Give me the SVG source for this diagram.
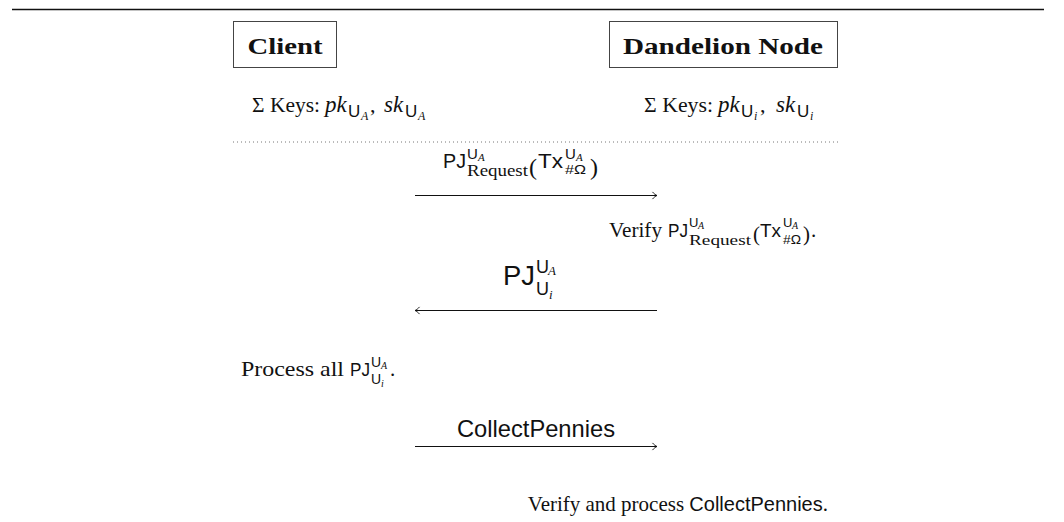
<svg xmlns="http://www.w3.org/2000/svg" width="1064" height="522" viewBox="0 0 1064 522">
<style>
.serif{font-family:"Liberation Serif",serif;fill:#111}
.sans{font-family:"Liberation Sans",sans-serif;fill:#111;font-style:normal}
.it{font-style:italic;font-family:"Liberation Serif",serif}
.bold{font-weight:bold}
.box{fill:none;stroke:#444;stroke-width:1}
.arrow{stroke:#111;stroke-width:1.1;fill:none}
</style>
<defs>
<marker id="to" viewBox="-6 -5 8 10" refX="0" refY="0" markerWidth="8" markerHeight="10" markerUnits="userSpaceOnUse" orient="auto">
<path d="M-4.5,-3.6 C-3,-1.6 -1.2,-0.5 0,0 C-1.2,0.5 -3,1.6 -4.5,3.6" fill="none" stroke="#111" stroke-width="0.9"/>
</marker>
</defs>
<rect width="1064" height="522" fill="#fff"/>
<line x1="12" y1="9.5" x2="1044" y2="9.5" stroke="#111" stroke-width="1.5"/>

<g id="client">
<rect class="box" x="233.5" y="21.5" width="103" height="46"/>
<text class="serif bold" x="285" y="54" font-size="24" text-anchor="middle" textLength="75" lengthAdjust="spacingAndGlyphs">Client</text>
</g>
<g id="dandelion-node">
<rect class="box" x="609.5" y="21.5" width="228" height="46"/>
<text class="serif bold" x="723" y="54" font-size="24" text-anchor="middle" textLength="200" lengthAdjust="spacingAndGlyphs">Dandelion Node</text>
</g>

<g id="client-keys">
<text class="serif" x="252" y="112" font-size="21" textLength="68" lengthAdjust="spacingAndGlyphs">Σ Keys:</text>
<text class="serif" y="112" font-size="22"><tspan class="it" x="325" font-size="23">pk</tspan><tspan class="sans" x="348" y="117" font-size="17">U</tspan><tspan class="it" x="361" y="120" font-size="12">A</tspan><tspan x="370" y="112">,</tspan><tspan class="it" x="384" font-size="23">sk</tspan><tspan class="sans" x="405" y="117" font-size="17">U</tspan><tspan class="it" x="418" y="120" font-size="12">A</tspan></text>
</g>

<g id="node-keys">
<text class="serif" x="644" y="112" font-size="21" textLength="69" lengthAdjust="spacingAndGlyphs">Σ Keys:</text>
<text class="serif" y="112" font-size="22"><tspan class="it" x="718" font-size="23">pk</tspan><tspan class="sans" x="741" y="117" font-size="17">U</tspan><tspan class="it" x="754" y="120" font-size="12">i</tspan><tspan x="760" y="112">,</tspan><tspan class="it" x="776" font-size="23">sk</tspan><tspan class="sans" x="797" y="117" font-size="17">U</tspan><tspan class="it" x="810" y="120" font-size="12">i</tspan></text>
</g>

<g id="connectors">
<line x1="233" y1="142" x2="838" y2="142" stroke="#777" stroke-width="1" stroke-dasharray="1 3"/>
<line class="arrow" x1="415" y1="195.5" x2="657" y2="195.5" marker-end="url(#to)"/>
<line class="arrow" x1="657" y1="310.5" x2="415" y2="310.5" marker-end="url(#to)"/>
<line class="arrow" x1="415" y1="446.5" x2="657" y2="446.5" marker-end="url(#to)"/>
</g>

<g id="msg-request">
<text class="sans" x="443" y="168" font-size="20" textLength="23" lengthAdjust="spacingAndGlyphs">PJ</text>
<text class="sans" x="467" y="159" font-size="15">U<tspan class="it" x="478" y="161" font-size="11">A</tspan></text>
<text class="serif" x="467" y="176" font-size="17" textLength="61" lengthAdjust="spacingAndGlyphs">Request</text>
<text class="serif" x="529" y="175" font-size="24">(</text>
<text class="sans" x="538" y="168" font-size="20" textLength="25" lengthAdjust="spacingAndGlyphs">Tx</text>
<text class="sans" x="565" y="159" font-size="15">U<tspan class="it" x="576" y="161" font-size="11">A</tspan></text>
<text class="sans" x="565" y="174" font-size="13" textLength="21" lengthAdjust="spacingAndGlyphs">#Ω</text>
<text class="serif" x="590" y="175" font-size="24">)</text>
</g>

<g id="verify-request">
<text class="serif" x="609" y="237" font-size="21" textLength="53" lengthAdjust="spacingAndGlyphs">Verify</text>
<text class="sans" x="668" y="237" font-size="18" textLength="20" lengthAdjust="spacingAndGlyphs">PJ</text>
<text class="sans" x="689" y="227" font-size="13">U<tspan class="it" x="698" y="229" font-size="10">A</tspan></text>
<text class="serif" x="689" y="245" font-size="15" textLength="62" lengthAdjust="spacingAndGlyphs">Request</text>
<text class="serif" x="753" y="241" font-size="21">(</text>
<text class="sans" x="760" y="237" font-size="18" textLength="21" lengthAdjust="spacingAndGlyphs">Tx</text>
<text class="sans" x="783" y="227" font-size="13">U<tspan class="it" x="792" y="229" font-size="10">A</tspan></text>
<text class="sans" x="783" y="244" font-size="12" textLength="18" lengthAdjust="spacingAndGlyphs">#Ω</text>
<text class="serif" x="803" y="241" font-size="21">)</text>
<text class="serif" x="811" y="237" font-size="21">.</text>
</g>

<g id="msg-response">
<text class="sans" x="503" y="285" font-size="27" textLength="32" lengthAdjust="spacingAndGlyphs">PJ</text>
<text class="sans" x="536" y="273" font-size="18">U<tspan class="it" x="548" y="275" font-size="13">A</tspan></text>
<text class="sans" x="536" y="295" font-size="18">U<tspan class="it" x="549" y="299" font-size="13">i</tspan></text>
</g>

<g id="process-response">
<text class="serif" x="241" y="376" font-size="21" textLength="103" lengthAdjust="spacingAndGlyphs">Process all</text>
<text class="sans" x="350" y="376" font-size="18" textLength="20" lengthAdjust="spacingAndGlyphs">PJ</text>
<text class="sans" x="371" y="367" font-size="14">U<tspan class="it" x="381" y="369" font-size="10">A</tspan></text>
<text class="sans" x="371" y="384" font-size="14">U<tspan class="it" x="381" y="387" font-size="10">i</tspan></text>
<text class="serif" x="390" y="376" font-size="21">.</text>
</g>

<g id="msg-collect">
<text class="sans" x="457" y="437" font-size="24" textLength="158" lengthAdjust="spacingAndGlyphs">CollectPennies</text>
</g>

<g id="verify-collect">
<text class="serif" x="828" y="511" font-size="21" text-anchor="end">Verify and process <tspan class="sans" font-size="20">CollectPennies</tspan>.</text>
</g>
</svg>
